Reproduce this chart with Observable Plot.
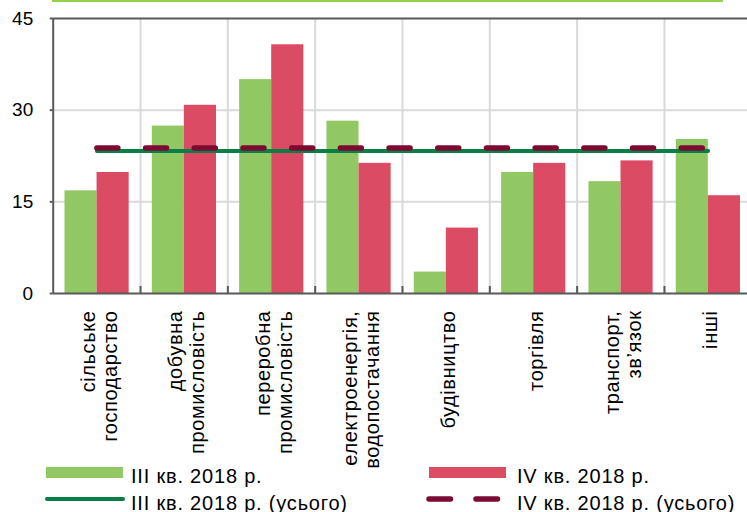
<!DOCTYPE html>
<html>
<head>
<meta charset="utf-8">
<script src="https://cdn.jsdelivr.net/npm/d3@7"></script>
<script src="https://cdn.jsdelivr.net/npm/@observablehq/plot@0.6"></script>
<style>
  body { margin: 0; background: #fff; font-family: "Liberation Sans", Arial, sans-serif; }
  #wrap { width: 747px; height: 512px; position: relative; overflow: hidden; }
  #topline { height: 2px; margin-left: 52px; width: 671px; background: #92d050; }
  #legend { position: absolute; left: 0; top: 462px; }
  svg { display: block; }
  .xlab text { letter-spacing: 0.6px; }
</style>
</head>
<body>
<div id="wrap">
  <div id="topline"></div>
  <div id="chart"></div>
  <div id="legend"></div>
</div>
<script>
const categories = [
  "сільське\nгосподарство",
  "добувна\nпромисловість",
  "переробна\nпромисловість",
  "електроенергія,\nводопостачання",
  "будівництво",
  "торгівля",
  "транспорт,\nзв’язок",
  "інші"
];
const q3Values = [16.8, 27.4, 35.0, 28.2, 3.5, 19.8, 18.3, 25.2];
const q4Values = [19.8, 30.8, 40.7, 21.3, 10.7, 21.3, 21.7, 16.0];
const q3Total = 23.3;
const q4Total = 23.8;
const yTicks = [0, 15, 30, 45];
const seriesNames = ["III кв. 2018 р.", "IV кв. 2018 р.", "III кв. 2018 р. (усього)", "IV кв. 2018 р. (усього)"];

const colors = { q3: "#92c864", q4: "#dc4b64", q3Line: "#0a7f45", q4Line: "#7c0a33", grid: "#d9d9d9", axis: "#595959" };

const rows = categories.map((c, i) => ({ i, c, q3: q3Values[i], q4: q4Values[i] }));
const n = categories.length;
const boundaries = d3.range(1, n);
const q3Line = [{ x: 0.5, y: q3Total }, { x: n - 0.5, y: q3Total }];
const q4Line = [{ x: 0.5, y: q4Total }, { x: n - 0.5, y: q4Total }];

const H = 472;
const chart = Plot.plot({
  width: 747,
  height: H,
  marginTop: 16,
  marginBottom: H - 291,
  marginLeft: 52.7,
  marginRight: -4.3,
  style: { fontFamily: "'Liberation Sans', Arial, sans-serif", color: "#000", background: "transparent" },
  x: { type: "linear", domain: [0, n], axis: null },
  y: { domain: [0, 45], axis: null },
  marks: [
    Plot.ruleY([15, 30], { stroke: colors.grid, strokeWidth: 2 }),
    Plot.ruleX(boundaries, { stroke: colors.grid, strokeWidth: 2 }),
    Plot.rectY(rows, { x1: d => d.i + 0.135, x2: d => d.i + 0.502, y1: 0, y2: "q3", fill: colors.q3 }),
    Plot.rectY(rows, { x1: d => d.i + 0.502, x2: d => d.i + 0.87, y1: 0, y2: "q4", fill: colors.q4 }),
    Plot.ruleY([0, 45], { stroke: colors.axis, strokeWidth: 2 }),
    Plot.ruleX([0], { stroke: colors.axis, strokeWidth: 2 }),
    Plot.ruleX(boundaries, { y1: 0, y2: 1.15, stroke: colors.axis, strokeWidth: 2 }),
    Plot.axisY({ ticks: yTicks, tickSize: 3, tickPadding: 17, fontSize: 19, stroke: colors.axis, strokeWidth: 2, tickFormat: d => String(d) }),
    Plot.lineY(q3Line, { x: "x", y: "y", stroke: colors.q3Line, strokeWidth: 4 }),
    Plot.lineY(q4Line, { x: "x", y: "y", stroke: colors.q4Line, strokeWidth: 5.5, strokeLinecap: "round", strokeDasharray: "21,27.7" }),
    Plot.text(categories, { x: (d, i) => i + 0.5, frameAnchor: "bottom", rotate: -90, textAnchor: "end", lineAnchor: "middle", dy: 17, dx: 2, fontSize: 20, lineHeight: 1.1, fill: "#000", className: "xlab" })
  ]
});
document.getElementById("chart").append(chart);

// Legend
const lg = d3.select("#legend").append("svg").attr("width", 747).attr("height", 50)
  .style("font-family", "'Liberation Sans', Arial, sans-serif");
const top0 = 462;
const items = [
  { kind: "rect", color: colors.q3, x: 46, label: seriesNames[0], row: 0 },
  { kind: "rect", color: colors.q4, x: 429, label: seriesNames[1], row: 0 },
  { kind: "line", color: colors.q3Line, x: 46, label: seriesNames[2], row: 1 },
  { kind: "dash", color: colors.q4Line, x: 429, label: seriesNames[3], row: 1 }
];
items.forEach(it => {
  const cy = (it.row === 0 ? 472.5 : 499) - top0;
  if (it.kind === "rect") {
    lg.append("rect").attr("x", it.x).attr("y", cy - 5.5).attr("width", 77).attr("height", 11).attr("fill", it.color);
  } else if (it.kind === "line") {
    lg.append("line").attr("x1", it.x + 1).attr("x2", it.x + 77).attr("y1", cy).attr("y2", cy)
      .attr("stroke", it.color).attr("stroke-width", 4).attr("stroke-linecap", "round");
  } else {
    lg.append("line").attr("x1", it.x).attr("x2", it.x + 72).attr("y1", cy).attr("y2", cy)
      .attr("stroke", it.color).attr("stroke-width", 5.5).attr("stroke-linecap", "round")
      .attr("stroke-dasharray", "21.5,25.5");
  }
  lg.append("text").attr("x", it.x + 85 + (it.kind === "dash" || (it.kind === "rect" && it.x > 200) ? 3 : 0))
    .attr("y", (it.row === 0 ? 483.3 : 509.5) - top0)
    .attr("font-size", 20).attr("letter-spacing", 0.8).attr("fill", "#000").text(it.label);
});
</script>
</body>
</html>
